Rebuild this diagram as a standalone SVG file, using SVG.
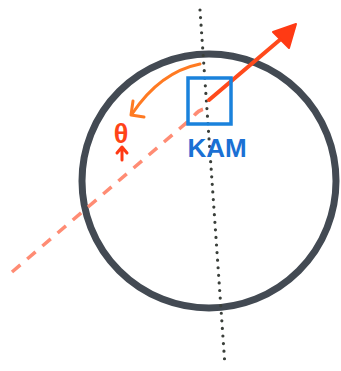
<svg xmlns="http://www.w3.org/2000/svg" width="341" height="371" viewBox="0 0 341 371">
<style>
.ring{fill:none;stroke:#434a53;stroke-width:7}
.dots{fill:none;stroke:#3a3f3a;stroke-width:3.2;stroke-linecap:round;stroke-dasharray:0 7.6}
.ray{fill:none;stroke:#ff4a1c;stroke-width:4;stroke-linecap:round}
.dash{fill:none;stroke:#ff8c74;stroke-width:3.5;stroke-dasharray:11 9}
.turn{fill:none;stroke:#ff7a22;stroke-width:3;stroke-linecap:round;stroke-linejoin:round}
.lbl{font-family:"Liberation Sans",Arial,sans-serif;font-weight:bold}
</style>
<rect width="341" height="371" fill="#fff"/>
<g id="ring"><circle class="ring" cx="209" cy="181" r="127"/></g>
<g id="connectors">
<path class="dots" d="M200 10 L225 366"/>
<path class="dash" d="M12 272 L192 118 Q198 110 204 109"/>
<path class="ray" d="M209 100 L282 38"/>
<path d="M296 24 L273 32 L289 48 Z" fill="#ff3a14" stroke="#ff3a14" stroke-width="2" stroke-linejoin="round"/>
<path class="turn" d="M200 64 Q160 72 132 114"/>
<path class="turn" d="M133 101 L131 115 L144 117"/>
<path d="M122 160 L122 148 M117 153 L122 147 L127 153" fill="none" stroke="#ff3a14" stroke-width="3" stroke-linecap="round" stroke-linejoin="round"/>
</g>
<g id="kam">
<rect x="188" y="78" width="43" height="46" fill="none" stroke="#1a82dc" stroke-width="3.5"/>
<text class="lbl" x="217" y="157" text-anchor="middle" font-size="26" fill="#1b70d4">KAM</text>
</g>
<g id="theta"><text class="lbl" x="121" y="143" text-anchor="middle" font-size="27" fill="#ff4418">θ</text></g>
</svg>
